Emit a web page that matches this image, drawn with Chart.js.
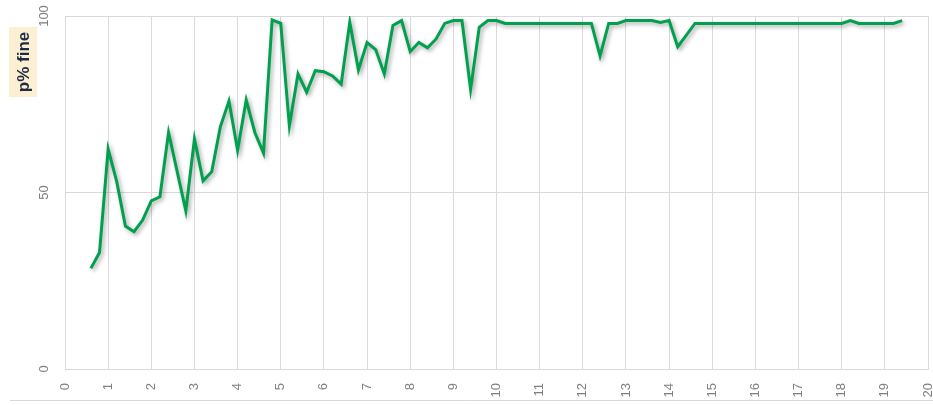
<!DOCTYPE html>
<html>
<head>
<meta charset="utf-8">
<script src="https://cdn.jsdelivr.net/npm/chart.js@4/dist/chart.umd.min.js"></script>
<style>
  html, body { margin: 0; padding: 0; background: #fff; }
  #wrap { position: relative; width: 933px; height: 405px; }
</style>
</head>
<body>
<div id="wrap"><canvas id="chart" width="933" height="405"></canvas></div>
<script>
// sample positions along x and the measured p% fine values
const xValues = [
  0.6, 0.8, 1.0, 1.2, 1.4, 1.6, 1.8, 2.0, 2.2, 2.4, 2.6, 2.8, 3.0, 3.2, 3.4, 3.6, 3.8, 4.0, 4.2, 4.4,
  4.6, 4.8, 5.0, 5.2, 5.4, 5.6, 5.8, 6.0, 6.2, 6.4, 6.6, 6.8, 7.0, 7.2, 7.4, 7.6, 7.8, 8.0, 8.2, 8.4,
  8.6, 8.8, 9.0, 9.2, 9.4, 9.6, 9.8, 10.0, 10.2, 10.4, 10.6, 10.8, 11.0, 11.2, 11.4, 11.6, 11.8, 12.0,
  12.2, 12.4, 12.6, 12.8, 13.0, 13.2, 13.4, 13.6, 13.8, 14.0, 14.2, 14.4, 14.6, 14.8, 15.0, 15.2, 15.4,
  15.6, 15.8, 16.0, 16.2, 16.4, 16.6, 16.8, 17.0, 17.2, 17.4, 17.6, 17.8, 18.0, 18.2, 18.4, 18.6, 18.8,
  19.0, 19.2, 19.4
];
const pFine = [
  28.5, 33, 62.3, 53, 40.5, 38.9, 42.2, 47.6, 48.8, 67, 55.9, 44.8, 65.2, 53.3, 55.9, 68.6, 75.9, 62, 76.2, 67,
  61.2, 98.9, 97.9, 68.9, 83.6, 78.4, 84.5, 84.2, 83, 80.7, 98.2, 84.7, 92.5, 90.5, 83.6, 97.3, 98.7, 89.9, 92.5, 91,
  93.5, 97.9, 98.7, 98.7, 79.2, 96.8, 98.7, 98.7, 97.9, 97.9, 97.9, 97.9, 97.9, 97.9, 97.9, 97.9, 97.9, 97.9,
  97.9, 88.7, 97.9, 97.9, 98.7, 98.7, 98.7, 98.7, 98.2, 98.7, 91.3, 94.6, 97.9, 97.9, 97.9, 97.9, 97.9,
  97.9, 97.9, 97.9, 97.9, 97.9, 97.9, 97.9, 97.9, 97.9, 97.9, 97.9, 97.9, 97.9, 98.7, 97.9, 97.9, 97.9,
  97.9, 97.9, 98.7
];
const xTicks = [0, 1, 2, 3, 4, 5, 6, 7, 8, 9, 10, 11, 12, 13, 14, 15, 16, 17, 18, 19, 20];
const yTicks = [0, 50, 100];
const yTitle = 'p% fine';

const points = xValues.map((x, i) => ({ x: x, y: pFine[i] }));
const tickFont = { family: 'Liberation Sans', size: 13 };
const tickColor = '#7f7f7f';

// soft drop shadow under the line
const lineShadow = {
  id: 'lineShadow',
  beforeDatasetsDraw(chart) {
    const ctx = chart.ctx;
    ctx.save();
    ctx.shadowColor = 'rgba(0,0,0,0.35)';
    ctx.shadowBlur = 4;
    ctx.shadowOffsetX = 2;
    ctx.shadowOffsetY = 2;
  },
  afterDatasetsDraw(chart) {
    chart.ctx.restore();
  }
};

// rotated y tick labels, the boxed axis title and the bottom frame line
const axisExtras = {
  id: 'axisExtras',
  afterDraw(chart) {
    const ctx = chart.ctx;
    const y = chart.scales.y;
    ctx.save();
    ctx.font = '13px "Liberation Sans"';
    ctx.fillStyle = tickColor;
    ctx.textAlign = 'center';
    ctx.textBaseline = 'middle';
    y.ticks.forEach(t => {
      const py = y.getPixelForValue(t.value);
      ctx.save();
      ctx.translate(44, py);
      ctx.rotate(-Math.PI / 2);
      ctx.fillText(String(t.value), 0, 0);
      ctx.restore();
    });

    ctx.fillStyle = '#fdf0d2';
    ctx.fillRect(9, 27, 28, 70);
    ctx.save();
    ctx.translate(23, 62);
    ctx.rotate(-Math.PI / 2);
    ctx.font = 'bold 17px "Liberation Sans"';
    ctx.fillStyle = '#1f2a44';
    ctx.fillText(yTitle, 0, 1);
    ctx.restore();

    ctx.strokeStyle = '#d9d9d9';
    ctx.lineWidth = 1;
    ctx.beginPath();
    ctx.moveTo(10, 400.5);
    ctx.lineTo(933, 400.5);
    ctx.stroke();
    ctx.restore();
  }
};

new Chart(document.getElementById('chart'), {
  type: 'line',
  data: {
    datasets: [{
      data: points,
      borderColor: '#00a04e',
      borderWidth: 3,
      pointRadius: 0,
      tension: 0,
      fill: false
    }]
  },
  options: {
    responsive: false,
    animation: false,
    layout: { padding: { left: 65, right: 5, top: 16, bottom: 8 } },
    plugins: { legend: { display: false }, tooltip: { enabled: false } },
    scales: {
      x: {
        type: 'linear',
        min: 0,
        max: 20,
        afterBuildTicks(scale) { scale.ticks = xTicks.map(v => ({ value: v })); },
        afterFit(scale) {
          scale.height = 28;
          scale.paddingLeft = 0;
          scale.paddingRight = 0;
        },
        grid: { color: '#d9d9d9', drawTicks: false },
        border: { color: '#d9d9d9' },
        ticks: {
          autoSkip: false,
          minRotation: 90,
          maxRotation: 90,
          padding: 14,
          font: tickFont,
          color: tickColor
        }
      },
      y: {
        min: 0,
        max: 100,
        afterBuildTicks(scale) { scale.ticks = yTicks.map(v => ({ value: v })); },
        grid: { color: '#d9d9d9', drawTicks: false },
        border: { display: false },
        ticks: { display: false }
      }
    }
  },
  plugins: [lineShadow, axisExtras]
});
</script>
</body>
</html>
